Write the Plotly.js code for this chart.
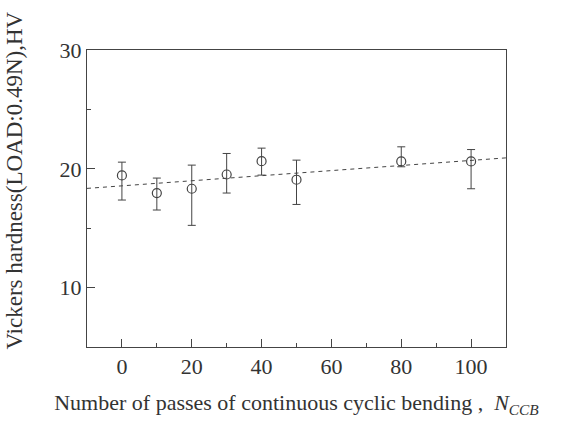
<!DOCTYPE html>
<html>
<head>
<meta charset="utf-8">
<script src="https://cdn.plot.ly/plotly-3.0.1.min.js"></script>
<style>html,body{margin:0;padding:0;background:#fff;}#chart{width:582px;height:423px;}</style>
</head>
<body>
<div id="chart"></div>
<script>
// Data
var passes   = [0, 10, 20, 30, 40, 50, 80, 100];
var hardness = [19.44, 17.96, 18.32, 19.52, 20.64, 19.08, 20.62, 20.62];
var errPlus  = [1.12, 1.26, 1.99, 1.77, 1.10, 1.65, 1.23, 1.00];
var errMinus = [2.07, 1.43, 3.08, 1.56, 1.17, 2.08, 0.45, 2.30];
var fitX = [-10, 110];
var fitY = [18.35, 20.92];
var xTicks = [0, 20, 40, 60, 80, 100];
var yTicks = [10, 20, 30];

var ink = '#444';
var font = 'Liberation Serif, Times New Roman, serif';

var traces = [
  {
    x: fitX, y: fitY, type: 'scatter', mode: 'lines',
    line: {color: ink, width: 1, dash: '4px,4px'},
    hoverinfo: 'skip', showlegend: false
  },
  {
    x: passes, y: hardness, type: 'scatter', mode: 'markers',
    marker: {symbol: 'circle-open', size: 9, color: ink, line: {width: 1.2, color: ink}},
    error_y: {type: 'data', symmetric: false, array: errPlus, arrayminus: errMinus,
              color: ink, thickness: 1, width: 4},
    showlegend: false
  }
];

var layout = {
  width: 582, height: 423,
  margin: {l: 87, r: 76, t: 50, b: 76},
  paper_bgcolor: '#fff', plot_bgcolor: '#fff',
  font: {family: font, color: '#333', size: 20},
  showlegend: false,
  xaxis: {
    range: [-10, 110], tickvals: xTicks, ticktext: xTicks.map(String),
    ticks: 'inside', ticklen: 8, tickwidth: 1, tickcolor: ink,
    minor: {tickvals: [10, 30, 50, 70, 90], ticks: 'inside', ticklen: 4, tickwidth: 1, tickcolor: ink},
    showline: true, linecolor: ink, linewidth: 1, mirror: true,
    showgrid: false, zeroline: false,
    tickfont: {family: font, size: 22, color: '#333'},
    title: {text: 'Number of passes of continuous cyclic bending ,  <i>N<sub>CCB</sub></i>',
            font: {family: font, size: 22, color: '#333'}, standoff: 16}
  },
  yaxis: {
    range: [5, 30], tickvals: yTicks, ticktext: yTicks.map(String),
    ticks: 'inside', ticklen: 8, tickwidth: 1, tickcolor: ink,
    minor: {tickvals: [15, 25], ticks: 'inside', ticklen: 4, tickwidth: 1, tickcolor: ink},
    showline: true, linecolor: ink, linewidth: 1, mirror: true,
    showgrid: false, zeroline: false,
    tickfont: {family: font, size: 22, color: '#333'}
  },
  annotations: [{
    text: 'Vickers hardness(LOAD:0.49N),HV',
    xref: 'paper', yref: 'paper', x: -0.172, y: 0.56,
    xanchor: 'center', yanchor: 'middle', textangle: -90, showarrow: false,
    font: {family: font, size: 23, color: '#333'}
  }]
};

Plotly.newPlot('chart', traces, layout, {displayModeBar: false, staticPlot: true});
</script>
</body>
</html>
